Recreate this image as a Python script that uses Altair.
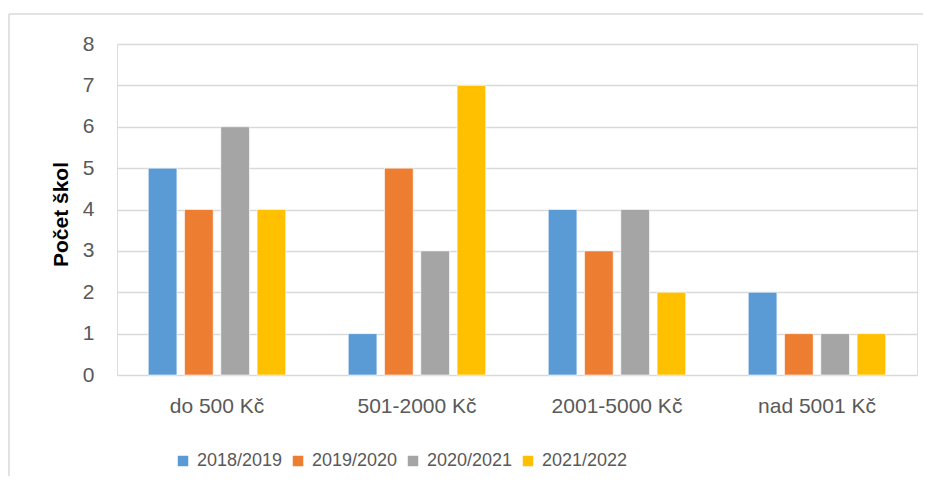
import altair as alt
import pandas as pd

categories = ["do 500 Kč", "501-2000 Kč", "2001-5000 Kč", "nad 5001 Kč"]
series = ["2018/2019", "2019/2020", "2020/2021", "2021/2022"]
values_2018 = [5, 1, 4, 2]
values_2019 = [4, 5, 3, 1]
values_2020 = [6, 3, 4, 1]
values_2021 = [4, 7, 2, 1]
colors = ["#5B9BD5", "#ED7D31", "#A5A5A5", "#FFC000"]
y_ticks = [0, 1, 2, 3, 4, 5, 6, 7, 8]

rows = []
for s, vals in zip(series, [values_2018, values_2019, values_2020, values_2021]):
    for c, v in zip(categories, vals):
        rows.append({"kategorie": c, "rok": s, "pocet": v})
df = pd.DataFrame(rows)

FONT = "Liberation Sans"
GRAY_TXT = "#595959"

bars = alt.Chart(df).mark_bar(stroke="white", strokeWidth=0.6).encode(
    x=alt.X("kategorie:N", sort=categories,
            scale=alt.Scale(paddingInner=0, paddingOuter=0),
            axis=alt.Axis(title=None, labelAngle=0, labelFontSize=21, labelColor=GRAY_TXT,
                          labelFont=FONT, ticks=False, tickSize=0, domain=False,
                          labelPadding=20, grid=False)),
    xOffset=alt.XOffset("rok:N", sort=series,
                        scale=alt.Scale(paddingInner=0.21, paddingOuter=0.862)),
    y=alt.Y("pocet:Q",
            scale=alt.Scale(domain=[0, 8], nice=False),
            axis=alt.Axis(title="Počet škol", values=y_ticks, labelFontSize=21,
                          labelColor=GRAY_TXT, labelFont=FONT, ticks=False, tickSize=0,
                          domain=False, labelPadding=23, grid=True,
                          gridColor="#D9D9D9", gridWidth=1.4,
                          titleFont=FONT, titleFontSize=21, titleFontWeight="bold",
                          titleColor="#000000", titleX=-50, titleY=170,
                          titleBaseline="alphabetic", titleAngle=-90)),
    color=alt.Color("rok:N", sort=series,
                    scale=alt.Scale(domain=series, range=colors),
                    legend=alt.Legend(title=None, orient="none", direction="horizontal",
                                      legendX=57, legendY=408, symbolType="square",
                                      symbolSize=110, symbolStrokeWidth=0,
                                      labelFontSize=18, labelFont=FONT,
                                      labelColor=GRAY_TXT, columnPadding=6,
                                      labelOffset=5)),
)

border_data = alt.Data(values=[{"a": 1}])
top_line = alt.Chart(border_data).mark_rule(color="#D9D9D9", strokeWidth=1.5, clip=False).encode(
    x=alt.value(-108), x2=alt.value(830), y=alt.value(-30)
)
left_line = alt.Chart(border_data).mark_rule(color="#D9D9D9", strokeWidth=1.5, clip=False).encode(
    x=alt.value(-108), y=alt.value(-30), y2=alt.value(500)
)

chart = alt.layer(bars, top_line, left_line).properties(
    width=800, height=331,
    autosize=alt.AutoSizeParams(type="none"),
    padding={"left": 109, "top": 36, "right": 6, "bottom": 101},
).configure_view(stroke=None).configure(background="white")

chart.save("out.html", embed_options={"renderer": "svg", "actions": False})
